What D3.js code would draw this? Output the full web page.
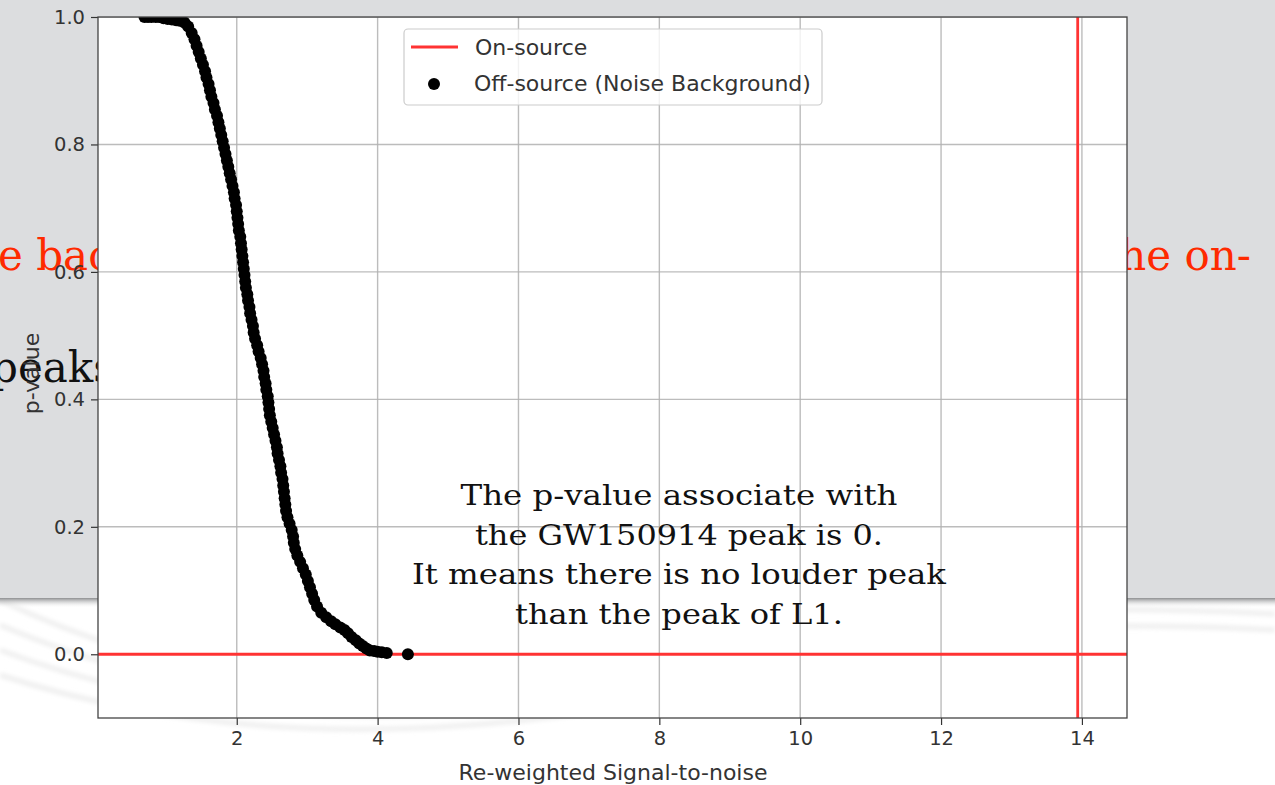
<!DOCTYPE html>
<html>
<head>
<meta charset="utf-8">
<script src="https://cdn.jsdelivr.net/npm/d3@7"></script>
<style>
  html, body { margin: 0; padding: 0; background: #ffffff; }
  svg { display: block; }
</style>
</head>
<body>
<svg id="chart" width="1275" height="785"></svg>
<script>
// Off-source background: re-weighted SNR and the p-value of each trigger
const offSnr = [
  0.69, 0.74, 0.79, 0.85, 0.90, 0.96, 1.02, 1.08, 1.14, 1.19,
  1.26, 1.31, 1.36, 1.40, 1.43, 1.46, 1.49, 1.52, 1.55, 1.57,
  1.60, 1.62, 1.64, 1.67, 1.69, 1.72, 1.74, 1.76, 1.78, 1.80,
  1.82, 1.84, 1.86, 1.88, 1.90, 1.92, 1.94, 1.96, 1.97, 1.99,
  2.00, 2.01, 2.02, 2.03, 2.05, 2.06, 2.07, 2.08, 2.09, 2.10,
  2.11, 2.12, 2.13, 2.15, 2.16, 2.18, 2.19, 2.21, 2.23, 2.24,
  2.26, 2.29, 2.31, 2.34, 2.36, 2.38, 2.39, 2.41, 2.42, 2.44,
  2.45, 2.46, 2.47, 2.49, 2.51, 2.53, 2.55, 2.57, 2.58, 2.60,
  2.62, 2.63, 2.65, 2.66, 2.67, 2.68, 2.69, 2.70, 2.72, 2.75,
  2.78, 2.80, 2.81, 2.83, 2.86, 2.90, 2.94, 2.98, 3.01, 3.04,
  3.07, 3.10, 3.14, 3.20, 3.27, 3.34, 3.40, 3.47, 3.53, 3.58,
  3.63, 3.69, 3.74, 3.79, 3.84, 3.89, 3.95, 4.00, 4.06, 4.13,
  4.43
];
const offPval = [
  1.000, 1.000, 1.000, 1.000, 1.000, 0.998, 0.997, 0.996, 0.995, 0.994,
  0.991, 0.985, 0.975, 0.965, 0.955, 0.945, 0.935, 0.925, 0.915, 0.905,
  0.895, 0.885, 0.875, 0.865, 0.855, 0.845, 0.835, 0.825, 0.815, 0.805,
  0.795, 0.785, 0.775, 0.765, 0.755, 0.745, 0.735, 0.725, 0.715, 0.705,
  0.695, 0.685, 0.675, 0.665, 0.655, 0.645, 0.635, 0.625, 0.615, 0.605,
  0.595, 0.585, 0.575, 0.565, 0.555, 0.545, 0.535, 0.525, 0.515, 0.505,
  0.495, 0.485, 0.475, 0.465, 0.455, 0.445, 0.435, 0.425, 0.415, 0.405,
  0.395, 0.385, 0.375, 0.365, 0.355, 0.345, 0.335, 0.325, 0.315, 0.305,
  0.295, 0.285, 0.275, 0.265, 0.255, 0.245, 0.235, 0.225, 0.215, 0.205,
  0.195, 0.185, 0.175, 0.165, 0.155, 0.145, 0.135, 0.125, 0.115, 0.105,
  0.095, 0.085, 0.075, 0.065, 0.058, 0.052, 0.047, 0.042, 0.038, 0.033,
  0.027, 0.022, 0.017, 0.013, 0.009, 0.006, 0.005, 0.004, 0.003, 0.002,
  0.000
];

// On-source (GW150914 in L1): loudest SNR and its p-value
const onSnr = 13.94;
const onPval = 0.0;

const xTicks = [2, 4, 6, 8, 10, 12, 14];
const yTicks = [0.0, 0.2, 0.4, 0.6, 0.8, 1.0];
const xLabel = "Re-weighted Signal-to-noise";
const yLabel = "p-value";
const legendLabels = ["On-source", "Off-source (Noise Background)"];
const noteLines = [
  "The p-value associate with",
  "the GW150914 peak is 0.",
  "It means there is no louder peak",
  "than the peak of L1."
];

const svg = d3.select("#chart");
const W = 1275, H = 785;
const plot = { left: 98, right: 1127, top: 17, bottom: 718 };

// ---- slide backdrop ----
const defs = svg.append("defs");
const shadow = defs.append("linearGradient").attr("id", "slideShadow")
  .attr("x1", 0).attr("y1", 0).attr("x2", 0).attr("y2", 1);
shadow.append("stop").attr("offset", "0%").attr("stop-color", "#8e8f91");
shadow.append("stop").attr("offset", "100%").attr("stop-color", "#ffffff").attr("stop-opacity", 0);
defs.append("filter").attr("id", "soft").append("feGaussianBlur").attr("stdDeviation", 2);

svg.append("rect").attr("x", 0).attr("y", 0).attr("width", W).attr("height", H).attr("fill", "#ffffff");
// faint swirls on the lower backdrop
const swirl = svg.append("g").attr("fill", "none").attr("stroke", "#efefef")
  .attr("stroke-width", 5).attr("filter", "url(#soft)");
[[600, 700], [625, 712], [650, 724], [675, 736]].forEach(([y0, y1]) => {
  swirl.append("path").attr("d", `M0,${y0} Q250,${y1 + 20} 560,${y1 - 20} T1000,${y0 + 30}`);
});
swirl.append("path").attr("d", "M990,612 Q1130,606 1275,614");
swirl.append("path").attr("d", "M990,630 Q1130,622 1275,630");

svg.append("rect").attr("x", 0).attr("y", 0).attr("width", W).attr("height", 598).attr("fill", "#dcdddf");
svg.append("rect").attr("x", 0).attr("y", 598).attr("width", W).attr("height", 10).attr("fill", "url(#slideShadow)");

// slide text partly hidden by the figure
const serif = "'DejaVu Serif', 'Liberation Serif', serif";
svg.append("text").attr("x", -2).attr("y", 270).attr("font-family", serif)
  .attr("font-size", 42).attr("fill", "#ff2a00").text("e background");
svg.append("text").attr("x", 1251).attr("y", 270).attr("text-anchor", "end").attr("font-family", serif)
  .attr("font-size", 42).attr("fill", "#ff2a00").text("the on-");
svg.append("text").attr("x", -9).attr("y", 382).attr("font-family", serif)
  .attr("font-size", 42).attr("fill", "#111111").text("peaks");

// ---- axes ----
const x = d3.scaleLinear().domain([0.03, 14.64]).range([plot.left, plot.right]);
const y = d3.scaleLinear().domain([-0.1, 1.0]).range([plot.bottom, plot.top]);
const sans = "'DejaVu Sans', sans-serif";
const tickFs = 19.5;
const labelFs = 22;

svg.append("rect").attr("x", plot.left).attr("y", plot.top)
  .attr("width", plot.right - plot.left).attr("height", plot.bottom - plot.top)
  .attr("fill", "#ffffff");

const clip = defs.append("clipPath").attr("id", "plotClip");
clip.append("rect").attr("x", plot.left).attr("y", plot.top)
  .attr("width", plot.right - plot.left).attr("height", plot.bottom - plot.top);
const inner = svg.append("g").attr("clip-path", "url(#plotClip)");

// grid
const grid = inner.append("g").attr("stroke", "#b0b0b0").attr("stroke-width", 1.4).attr("stroke-opacity", 0.85);
xTicks.forEach((t) => grid.append("line").attr("x1", x(t)).attr("x2", x(t)).attr("y1", plot.top).attr("y2", plot.bottom));
yTicks.forEach((t) => grid.append("line").attr("x1", plot.left).attr("x2", plot.right).attr("y1", y(t)).attr("y2", y(t)));

// on-source lines
inner.append("line").attr("x1", plot.left).attr("x2", plot.right)
  .attr("y1", y(onPval)).attr("y2", y(onPval))
  .attr("stroke", "#ff3333").attr("stroke-width", 2.8);
inner.append("line").attr("x1", x(onSnr)).attr("x2", x(onSnr))
  .attr("y1", plot.top).attr("y2", plot.bottom)
  .attr("stroke", "#ff3333").attr("stroke-width", 2.8);

// off-source scatter
inner.append("g").selectAll("circle").data(offSnr).join("circle")
  .attr("cx", (d) => x(d)).attr("cy", (d, i) => y(offPval[i]))
  .attr("r", 6).attr("fill", "#000000");

// axis ticks and labels
const xAxis = d3.axisBottom(x).tickValues(xTicks).tickFormat(d3.format("d")).tickSize(7).tickPadding(6);
const yAxis = d3.axisLeft(y).tickValues(yTicks).tickFormat(d3.format(".1f")).tickSize(7).tickPadding(6);
const gx = svg.append("g").attr("transform", `translate(0,${plot.bottom})`).call(xAxis);
const gy = svg.append("g").attr("transform", `translate(${plot.left},0)`).call(yAxis);
[gx, gy].forEach((g) => {
  g.select(".domain").remove();
  g.selectAll(".tick line").attr("stroke", "#333333").attr("stroke-width", 1.2);
  g.selectAll(".tick text").attr("fill", "#333333").attr("font-family", sans).attr("font-size", tickFs);
});

// spines
svg.append("rect").attr("x", plot.left).attr("y", plot.top)
  .attr("width", plot.right - plot.left).attr("height", plot.bottom - plot.top)
  .attr("fill", "none").attr("stroke", "#444444").attr("stroke-width", 1.3);

svg.append("text").attr("x", 613).attr("y", 780)
  .attr("text-anchor", "middle").attr("font-family", sans).attr("font-size", labelFs)
  .attr("fill", "#333333").text(xLabel);
svg.append("text").attr("transform", `translate(39,${(plot.top + plot.bottom) / 2 + 6}) rotate(-90)`)
  .attr("text-anchor", "middle").attr("font-family", sans).attr("font-size", labelFs)
  .attr("fill", "#333333").text(yLabel);

// legend
const lg = svg.append("g");
lg.append("rect").attr("x", 404).attr("y", 29).attr("width", 418).attr("height", 76)
  .attr("rx", 4).attr("fill", "#ffffff").attr("fill-opacity", 0.8)
  .attr("stroke", "#cccccc").attr("stroke-width", 1.2);
lg.append("line").attr("x1", 411).attr("x2", 458).attr("y1", 47).attr("y2", 47)
  .attr("stroke", "#ff3333").attr("stroke-width", 2.8);
lg.append("circle").attr("cx", 434).attr("cy", 84).attr("r", 6).attr("fill", "#000000");
lg.append("text").attr("x", 475).attr("y", 55).attr("font-family", sans).attr("font-size", labelFs)
  .attr("fill", "#333333").text(legendLabels[0]);
lg.append("text").attr("x", 474).attr("y", 91).attr("font-family", sans).attr("font-size", labelFs)
  .attr("fill", "#333333").text(legendLabels[1]);

// annotation
const noteWidths = [437, 408, 534, 328];
const note = svg.append("g").attr("font-family", serif).attr("font-size", 28).attr("fill", "#111111")
  .attr("text-anchor", "middle");
noteLines.forEach((t, i) => {
  note.append("text").attr("x", 679).attr("y", 505 + i * 39.5)
    .attr("textLength", noteWidths[i]).attr("lengthAdjust", "spacingAndGlyphs").text(t);
});
</script>
</body>
</html>
